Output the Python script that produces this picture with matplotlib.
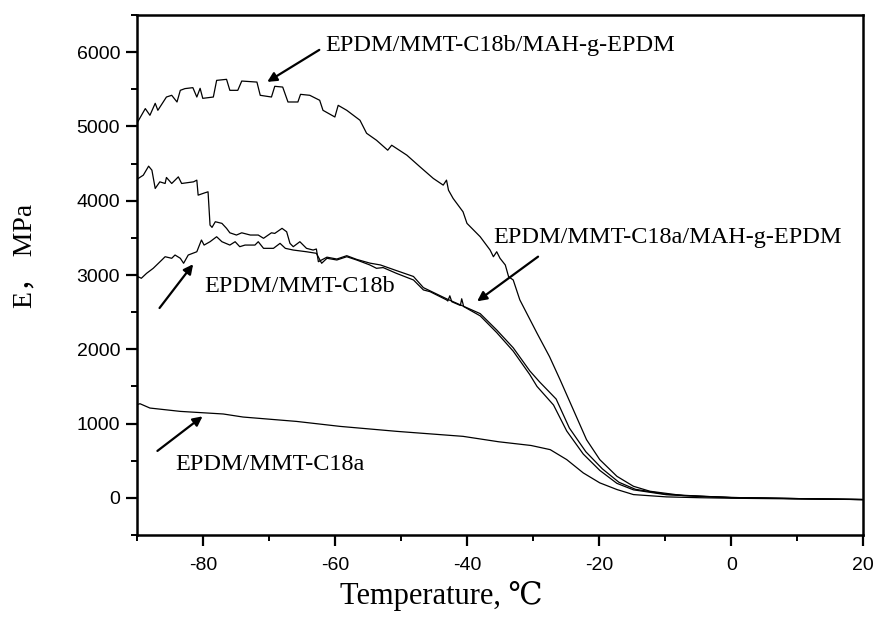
import matplotlib
matplotlib.use('Agg')
import matplotlib.pyplot as plt
from matplotlib.ticker import MultipleLocator

plt.rcParams['axes.unicode_minus'] = False

# EPDM/MMT-C18b/MAH-g-EPDM
t_a = [-90.0, -88.7, -88.0, -87.2, -86.8, -85.5, -84.7, -83.9, -83.4, -82.7, -81.5, -80.9, -80.4, -80.0,
       -78.4, -77.9, -76.4, -75.9, -74.7, -74.1, -71.8, -71.3, -69.6, -69.1, -67.9, -67.1, -65.6, -65.2,
       -63.8, -62.3, -61.8, -60.0, -59.5, -58.2, -56.2, -55.2, -53.7, -52.0, -51.4, -49.1, -47.1, -45.1,
       -43.6, -43.1, -42.8, -42.1, -40.6, -40.0, -39.0, -38.0, -36.5, -36.0, -35.5, -35.0, -34.2, -33.7,
       -33.0, -32.0, -29.4, -27.5, -25.9, -23.9, -21.9, -19.9, -17.3, -14.8, -12.3, -7.3, 0.0, 10.0, 20.0]
e_a = [5038, 5240, 5150, 5311, 5217, 5396, 5419, 5329, 5486, 5509, 5522, 5396, 5513, 5378,
       5396, 5620, 5634, 5486, 5486, 5611, 5597, 5419, 5396, 5540, 5530, 5329, 5329, 5432,
       5419, 5352, 5217, 5127, 5284, 5217, 5083, 4908, 4814, 4680, 4747, 4613, 4455, 4300,
       4210, 4277, 4142, 4031, 3851, 3695, 3605, 3515, 3336, 3246, 3313, 3225, 3135, 2977,
       2933, 2665, 2217, 1900, 1589, 1186, 783, 515, 290, 156, 89, 31, 5, -10, -23]

# EPDM/MMT-C18a/MAH-g-EPDM
t_b = [-90.0, -89.0, -88.2, -87.7, -87.2, -86.5, -85.7, -85.5, -84.7, -83.7, -83.2, -81.4, -80.9, -80.7,
       -79.7, -79.2, -78.9, -78.6, -78.1, -77.1, -76.4, -75.9, -74.9, -74.1, -72.8, -71.6, -70.8, -69.6,
       -69.1, -68.0, -67.3, -66.8, -66.3, -65.3, -64.3, -63.3, -62.8, -62.5, -61.2, -59.7, -58.2, -56.7,
       -54.7, -53.1, -50.7, -48.1, -46.6, -43.1, -38.0, -35.5, -33.0, -30.5, -29.0, -26.5, -24.5, -22.0,
       -19.5, -17.0, -14.5, -9.8, -4.8, 0.0, 10.0, 20.0]
e_b = [4286, 4344, 4465, 4411, 4165, 4254, 4232, 4313, 4232, 4321, 4232, 4254, 4277, 4075,
       4106, 4120, 3672, 3641, 3717, 3695, 3628, 3568, 3538, 3568, 3538, 3538, 3494, 3568,
       3560, 3628, 3582, 3426, 3381, 3448, 3359, 3336, 3350, 3179, 3240, 3215, 3260, 3210,
       3160, 3135, 3060, 2980, 2830, 2680, 2480, 2260, 2020, 1710, 1560, 1330, 940, 620,
       390, 210, 115, 48, 23, 5, -10, -23]

# EPDM/MMT-C18b
t_c = [-90.0, -89.8, -89.3, -88.5, -87.5, -86.2, -85.7, -84.7, -84.2, -83.4, -82.9, -82.2, -80.9, -80.2,
       -79.8, -78.9, -77.9, -77.1, -75.9, -75.1, -74.4, -73.6, -72.1, -71.6, -70.8, -69.3, -68.3, -67.5,
       -66.3, -64.3, -62.8, -62.0, -61.2, -59.7, -58.2, -56.7, -54.7, -53.7, -52.7, -50.7, -48.1, -46.6,
       -45.6, -43.1, -42.9, -42.6, -42.3, -41.0, -40.8, -40.5, -38.0, -35.5, -33.0, -30.5, -29.4, -26.9,
       -24.9, -22.4, -19.9, -17.3, -14.8, -9.8, -4.8, 0.0, 10.0, 20.0]
e_c = [2910, 2977, 2956, 3023, 3090, 3202, 3246, 3225, 3269, 3225, 3158, 3269, 3313, 3471,
       3403, 3448, 3515, 3448, 3403, 3448, 3381, 3403, 3403, 3448, 3359, 3359, 3426, 3359,
       3336, 3313, 3292, 3158, 3225, 3202, 3246, 3202, 3135, 3090, 3100, 3023, 2933, 2799,
       2776, 2665, 2650, 2720, 2640, 2590, 2680, 2575, 2450, 2225, 1975, 1660, 1500, 1250,
       900, 590, 370, 195, 108, 42, 20, 3, -10, -23]

# EPDM/MMT-C18a
t_d = [-90.0, -89.5, -88.0, -83.4, -76.9, -73.9, -65.8, -59.2, -50.6, -40.6, -35.2, -30.3, -27.4,
       -24.9, -22.4, -19.9, -17.3, -14.8, -9.8, -4.8, 0.0, 20.0]
e_d = [1254, 1267, 1209, 1164, 1129, 1088, 1029, 962, 895, 828, 755, 705, 649,
       515, 336, 202, 112, 44, 13, 2, -5, -23]

labels = ['EPDM/MMT-C18b/MAH-g-EPDM', 'EPDM/MMT-C18a/MAH-g-EPDM', 'EPDM/MMT-C18b', 'EPDM/MMT-C18a']

serif = ['Liberation Serif', 'DejaVu Serif', 'Noto Sans CJK SC']

fig = plt.figure(figsize=(8.73, 6.25), dpi=100)
ax = fig.add_axes([0.1566, 0.144, 0.8323, 0.832])

for t, e in [(t_a, e_a), (t_b, e_b), (t_c, e_c), (t_d, e_d)]:
    ax.plot(t, e, color='black', lw=0.9)

ax.set_xlim(-90, 20)
ax.set_ylim(-500, 6500)
ax.xaxis.set_major_locator(MultipleLocator(20))
ax.xaxis.set_minor_locator(MultipleLocator(10))
ax.yaxis.set_major_locator(MultipleLocator(1000))
ax.yaxis.set_minor_locator(MultipleLocator(500))
ax.tick_params(which='major', direction='out', length=8, width=1.6, labelsize=14, pad=4)
ax.tick_params(which='minor', direction='out', length=4, width=1.4)
ax.tick_params(axis='x', which='major', pad=8)
for lab in ax.get_xticklabels() + ax.get_yticklabels():
    lab.set_family('Liberation Sans')
for sp in ax.spines.values():
    sp.set_linewidth(1.8)

arrow = dict(arrowstyle='-|>', color='black', lw=1.6, mutation_scale=14)
ax.annotate('', xy=(-70.6, 5580), xytext=(-62.0, 6050), arrowprops=arrow)
ax.text(-61.5, 6090, labels[0], fontsize=17.5, family=serif, va='center', ha='left')
ax.annotate('', xy=(-38.8, 2624), xytext=(-28.9, 3269), arrowprops=arrow)
ax.text(-36.0, 3500, labels[1], fontsize=17.5, family=serif, va='center', ha='left')
ax.annotate('', xy=(-81.2, 3175), xytext=(-86.8, 2526), arrowprops=arrow)
ax.text(-79.7, 2839, labels[2], fontsize=17.5, family=serif, va='center', ha='left')
ax.annotate('', xy=(-79.7, 1120), xytext=(-87.2, 609), arrowprops=arrow)
ax.text(-84.2, 449, labels[3], fontsize=17.5, family=serif, va='center', ha='left')

fig.text(0.029, 0.59, 'E， MPa', rotation=90, fontsize=20, family=serif, ha='center', va='center')
fig.text(0.505, 0.046, 'Temperature, ℃', fontsize=22, family=serif, ha='center', va='center')

fig.savefig('out.png', dpi=100)
